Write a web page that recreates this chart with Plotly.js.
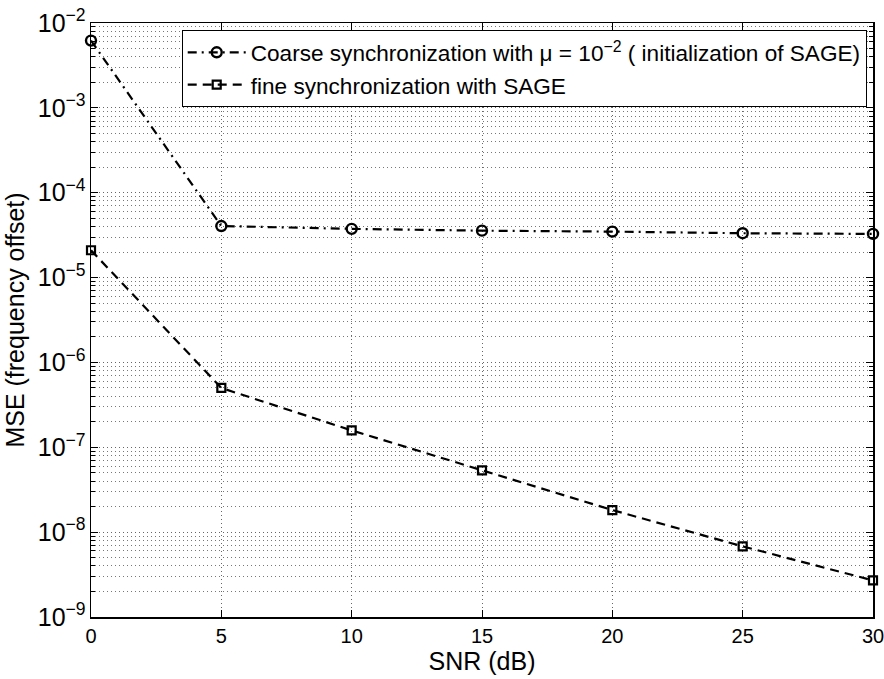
<!DOCTYPE html>
<html>
<head>
<meta charset="utf-8">
<script src="https://cdn.plot.ly/plotly-3.0.1.min.js"></script>
<style>html,body{margin:0;padding:0;background:#fff}#chart{width:884px;height:679px}</style>
</head>
<body>
<div id="chart"></div>
<script>
const snr = [0, 5, 10, 15, 20, 25, 30];
const coarseMSE = [6.2e-3, 4.05e-5, 3.75e-5, 3.57e-5, 3.48e-5, 3.33e-5, 3.27e-5];
const fineMSE = [2.1e-5, 5.0e-7, 1.58e-7, 5.35e-8, 1.82e-8, 6.8e-9, 2.7e-9];
const coarseName = "Coarse synchronization with \u03bc = 10<sup>\u22122</sup> ( initialization of SAGE)";
const fineName = "fine synchronization with SAGE";
const xTitle = "SNR (dB)";
const yTitle = "MSE (frequency offset)";

const font = "'Liberation Sans', Arial, Helvetica, sans-serif";

const traces = [
  {
    x: snr, y: coarseMSE, name: coarseName, type: "scatter", mode: "lines+markers",
    line: {color: "#000", width: 2.2, dash: "9px,5px,2px,5px"},
    marker: {symbol: "circle-open", size: 10, color: "#000", line: {width: 2.4, color: "#000"}},
    cliponaxis: false
  },
  {
    x: snr, y: fineMSE, name: fineName, type: "scatter", mode: "lines+markers",
    line: {color: "#000", width: 2.2, dash: "9px,6px"},
    marker: {symbol: "square-open", size: 8, color: "#000", line: {width: 2.2, color: "#000"}},
    cliponaxis: false
  }
];

const layout = {
  width: 884, height: 679,
  margin: {l: 91, r: 11, t: 23, b: 62},
  paper_bgcolor: "#fff", plot_bgcolor: "#fff",
  font: {family: font, size: 20, color: "#000"},
  showlegend: true,
  legend: {
    x: 0.116, y: 0.988, xanchor: "left", yanchor: "top",
    bgcolor: "#fff", bordercolor: "#000", borderwidth: 1,
    font: {family: font, size: 22.6, color: "#000"},
    itemwidth: 58,
    tracegroupgap: 0
  },
  xaxis: {
    range: [0, 30], dtick: 5, tick0: 0,
    showline: true, linecolor: "#000", linewidth: 1.5, mirror: "ticks",
    ticks: "inside", ticklen: 7, tickcolor: "#000",
    showgrid: true, gridcolor: "#666", griddash: "1px,3px", gridwidth: 1,
    zeroline: false, ticklabeloverflow: "allow",
    tickfont: {family: font, size: 20, color: "#000"},
    title: {text: xTitle, font: {family: font, size: 25, color: "#000"}, standoff: 2}
  },
  yaxis: {
    type: "log", range: [-9, -2], dtick: 1,
    exponentformat: "power", showexponent: "all",
    showline: true, linecolor: "#000", linewidth: 1.5, mirror: "ticks",
    ticks: "inside", ticklen: 7, tickcolor: "#000",
    showgrid: true, gridcolor: "#666", griddash: "1px,3px", gridwidth: 1,
    zeroline: false, ticklabeloverflow: "allow",
    minor: {dtick: "D1", ticks: "inside", ticklen: 4, tickcolor: "#000", showgrid: true, gridcolor: "#777", griddash: "1px,3px", gridwidth: 1},
    tickfont: {family: font, size: 20, color: "#000"},
    title: {text: yTitle, font: {family: font, size: 25, color: "#000"}, standoff: 6}
  }
};

Plotly.newPlot("chart", traces, layout, {displayModeBar: false, staticPlot: true});
</script>
</body>
</html>
